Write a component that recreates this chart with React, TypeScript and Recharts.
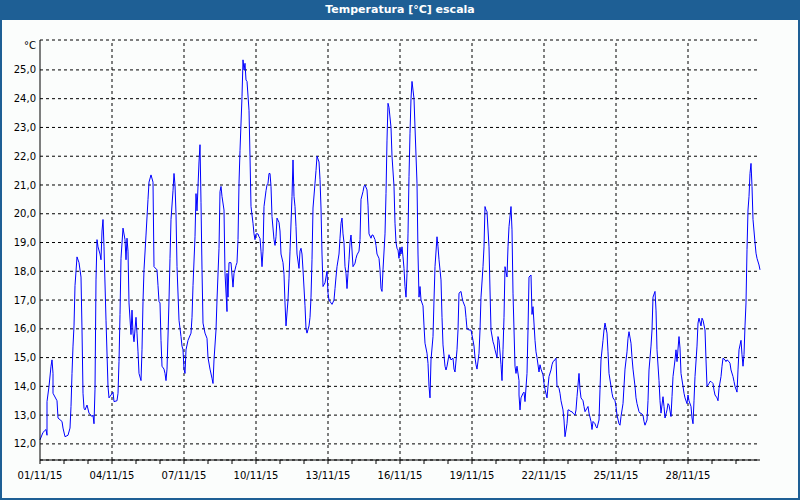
import React from 'react';
import { LineChart, Line, XAxis, YAxis, CartesianGrid, ReferenceLine } from 'recharts';

// [hour since 01/11/15 00:00, temperature °C]
const days01to05: [number, number][] = [
  [0,12.14],[3,12.4],[6,12.5],[7,12.3],[7,13.47],[9,14.0],[11,14.7],[12,14.92],[13,14.45],[13,13.76],[17,13.5],[18,12.9],[22,12.78],[23,12.55],[25,12.25],[28,12.3],[30,12.55],[31,13.3],[32,14.45],[33,15.4],[34,16.1],[35,17.5],[37,18.5],[39,18.3],[41,17.8],[42,15.96],[43,13.76],[44,13.24],[45,13.18],[47,13.35],[49,13.07],[52,12.95],[53,13.0],[54,12.7],[55,13.9],[56,17.7],[57,19.1],[58,18.85],[60,18.6],[61,18.4],[62,19.4],[63,19.8],[64,18.85],[66,16.3],[68,14.0],[69,13.6],[71,13.7],[73,13.8],[74,13.47],[77,13.5],[78,13.76],[79,14.86],[80,16.5],[81,18.45],[83,19.5],[85,19.1],[86,18.4],[87,19.15],[88,18.7],[89,16.9],[91,15.8],[92,16.65],[93,15.85],[94,15.55],[96,16.4],[97,15.85],[98,15.2],[99,14.45],[101,14.2],[102,15.27],[103,16.95],[104,18.05],[106,19.26],[108,20.5],[109,21.1],[111,21.35],[113,21.1],[114,18.16],[117,18.05],[118,17.5],[119,16.95],
];
const days06to10: [number, number][] = [
  [120,16.9],[121,15.6],[122,14.7],[124,14.6],[125,14.45],[126,14.2],[127,14.6],[128,15.75],[129,17.0],[130,18.45],[131,19.8],[133,20.8],[134,21.4],[135,21.0],[136,20.0],[137,18.16],[139,16.3],[141,15.73],[142,15.4],[143,15.27],[144,14.6],[145,14.45],[146,15.27],[148,15.6],[151,15.85],[152,16.4],[153,17.5],[155,19.2],[156,20.7],[157,20.1],[159,21.8],[160,22.4],[161,20.4],[162,18.05],[163,16.2],[165,15.85],[167,15.67],[168,15.0],[170,14.6],[172,14.28],[173,14.1],[174,14.92],[176,15.96],[177,17.0],[179,18.8],[180,20.77],[181,20.95],[182,20.6],[184,20.13],[185,17.93],[187,16.6],[187,17.93],[188,17.1],[189,18.3],[191,18.3],[193,17.45],[194,17.93],[195,18.05],[196,18.2],[197,18.3],[198,19.1],[199,21.06],[200,22.2],[202,24.07],[203,25.35],[204,25.0],[205,25.23],[206,24.65],[207,24.6],[209,23.6],[210,21.98],[211,20.25],[213,19.67],[214,19.3],[215,19.1],[216,19.3],[218,19.3],[219,19.2],[220,19.15],[221,18.7],[222,18.16],[223,18.7],[224,20.25],[226,20.8],[227,21.0],[228,21.06],[229,21.4],[230,21.4],[231,20.95],[232,19.9],[234,19.1],[235,18.9],[236,19.2],[237,19.85],[239,19.7],
];
const days11to15: [number, number][] = [
  [240,19.4],[241,18.6],[243,18.3],[244,17.9],[245,16.9],[246,16.1],[247,16.55],[248,17.0],[249,17.76],[250,18.7],[252,20.6],[253,21.87],[254,20.6],[255,20.25],[256,19.55],[257,18.6],[259,18.1],[260,18.7],[261,18.8],[262,18.6],[263,18.05],[265,16.8],[266,16.0],[267,15.85],[269,16.1],[270,16.4],[271,17.1],[272,18.4],[273,20.2],[275,21.06],[276,21.5],[277,22.0],[279,21.8],[280,21.2],[281,20.2],[282,18.6],[283,17.47],[285,17.6],[286,17.8],[287,18.0],[288,17.24],[289,17.0],[291,16.9],[292,16.85],[294,17.0],[295,17.4],[296,17.8],[297,18.16],[299,18.6],[300,19.15],[301,19.67],[302,19.85],[303,19.3],[304,19.0],[305,18.16],[306,17.93],[307,17.4],[308,17.93],[309,18.4],[310,19.0],[311,19.26],[312,18.74],[313,18.16],[315,18.28],[316,18.45],[317,18.57],[319,18.7],[320,19.1],[321,20.5],[323,20.77],[324,20.95],[325,21.0],[327,20.83],[328,20.3],[329,19.3],[331,19.15],[332,19.26],[333,19.26],[335,19.1],[336,18.9],[337,18.6],[339,18.45],[340,18.05],[341,17.4],[342,17.3],[343,18.05],[345,19.3],[346,20.7],[347,22.56],[348,23.84],[349,23.7],[351,23.0],[352,22.0],[354,20.95],[355,19.67],[356,19.0],[357,18.8],[358,18.74],[359,18.45],
];
const days16to20: [number, number][] = [
  [360,18.8],[361,18.6],[362,18.85],[363,18.5],[364,18.1],[365,17.47],[366,17.1],[367,17.93],[368,19.3],[369,21.3],[370,22.8],[371,24.0],[372,24.6],[373,24.3],[374,24.0],[375,23.0],[377,21.06],[378,18.6],[379,17.1],[380,17.47],[381,17.0],[383,16.8],[384,16.1],[385,15.5],[387,15.15],[388,14.8],[389,14.0],[390,13.6],[391,14.92],[393,15.73],[394,17.0],[395,18.16],[397,19.2],[398,18.85],[399,18.4],[401,17.7],[402,16.4],[403,15.44],[405,14.7],[406,14.57],[407,14.7],[409,15.1],[410,15.0],[411,14.92],[413,14.98],[414,14.6],[415,14.5],[417,15.27],[418,15.96],[419,17.24],[421,17.3],[422,17.1],[423,16.95],[425,16.77],[426,16.4],[427,16.0],[429,15.96],[431,15.96],[433,15.6],[434,15.4],[435,15.0],[436,14.75],[437,14.6],[439,15.15],[440,15.96],[441,17.1],[443,18.16],[444,18.85],[445,20.25],[446,20.13],[447,20.07],[449,18.85],[450,17.35],[451,15.96],[453,15.55],[454,15.44],[455,15.27],[457,15.0],[458,15.73],[459,15.6],[461,14.75],[462,14.2],[463,15.27],[464,16.4],[465,18.16],[467,17.8],[468,18.85],[469,19.55],[471,20.25],[472,19.44],[473,17.24],[475,14.7],[476,14.45],[477,14.7],[479,14.2],[479,13.7],
];
const days21to25: [number, number][] = [
  [480,13.18],[481,13.6],[483,13.76],[484,13.8],[485,13.47],[487,14.45],[488,15.96],[489,17.8],[491,17.87],[492,16.5],[493,16.77],[495,15.6],[496,15.2],[497,15.0],[499,14.5],[500,14.75],[501,14.6],[503,14.4],[504,14.1],[505,13.9],[507,13.6],[508,14.0],[509,14.34],[511,14.57],[512,14.75],[513,14.86],[515,14.92],[516,14.98],[517,14.0],[519,13.93],[520,13.76],[521,13.5],[523,13.18],[524,12.83],[525,12.25],[527,12.7],[528,13.18],[529,13.18],[531,13.12],[532,13.12],[533,13.07],[535,13.0],[536,13.18],[537,13.64],[539,14.45],[540,13.9],[541,13.6],[543,13.5],[544,13.3],[545,13.12],[547,13.24],[548,13.3],[549,13.07],[551,12.78],[552,12.5],[553,12.78],[555,12.7],[556,12.6],[557,12.55],[559,12.83],[560,13.9],[561,14.92],[563,15.6],[564,15.96],[565,16.2],[567,15.85],[568,15.2],[569,14.45],[571,14.0],[572,13.76],[573,13.6],[575,13.5],[576,13.3],[577,13.0],[579,12.7],[580,12.65],[581,12.95],[583,13.4],[584,14.0],[585,14.6],[587,15.2],[588,15.67],[589,15.9],[591,15.5],[592,15.0],[593,14.6],[595,14.0],[596,13.6],[597,13.4],[599,13.12],
];
const days26to30: [number, number][] = [
  [600,13.07],[601,13.07],[603,13.0],[604,12.78],[605,12.65],[607,12.83],[608,13.5],[609,14.57],[611,15.4],[612,15.96],[613,17.1],[615,17.3],[616,16.65],[617,15.27],[619,14.2],[620,13.5],[621,13.07],[623,13.64],[624,13.3],[625,12.9],[627,13.18],[628,13.4],[629,13.35],[631,12.95],[632,13.64],[633,14.34],[635,14.92],[636,15.27],[637,14.86],[639,15.73],[640,15.33],[641,14.45],[643,14.0],[644,13.76],[645,13.6],[647,13.4],[648,13.7],[649,13.5],[651,13.3],[652,12.9],[653,12.7],[654,13.5],[655,14.34],[657,15.4],[658,16.2],[659,16.37],[661,16.1],[662,16.37],[663,16.3],[665,15.96],[666,14.92],[667,14.0],[669,14.1],[670,14.17],[671,14.17],[673,14.1],[674,13.87],[675,13.7],[677,13.6],[678,13.5],[679,13.93],[681,14.34],[682,14.7],[683,14.98],[685,14.92],[686,14.86],[687,14.92],[689,14.86],[690,14.8],[691,14.57],[693,14.34],[694,14.17],[695,14.0],[697,13.8],[698,14.57],[699,15.27],[701,15.6],[702,15.1],[703,14.7],[704,15.1],[705,16.1],[706,16.9],[707,18.75],[708,20.13],[709,20.6],[710,21.4],[711,21.75],[712,20.95],[713,19.8],[715,19.0],[716,18.63],[717,18.45],[719,18.22],[720,18.05],
];

const yTicks = [12, 13, 14, 15, 16, 17, 18, 19, 20, 21, 22, 23, 24, 25];
const xTicks = [0,24,48,72,96,120,144,168,192,216,240,264,288,312,336,360,384,408,432,456,480,504,528,552,576,600,624,648,672,696];
const gridHours = [72, 144, 216, 288, 360, 432, 504, 576, 648];
const monthSuffix = '/11/15';
const title = 'Temperatura [°C] escala';
const unit = '°C';

const data = [...days01to05, ...days06to10, ...days11to15, ...days16to20, ...days21to25, ...days26to30]
  .map(([h, t]) => ({ h, t }));

const FONT = '"DejaVu Sans", Tahoma, sans-serif';
const BLUE = '#1e5f95';

const fmtX = (h: number) => {
  if (h % 72 !== 0) return '';
  const d = Math.floor(h / 24) + 1;
  return `${String(d).padStart(2, '0')}${monthSuffix}`;
};
const fmtY = (v: number) => v.toFixed(1).replace('.', ',');

export default function App() {
  return (
    <div style={{ position: 'absolute', left: 0, top: 0, width: 800, height: 500, background: '#fbfdfc', overflow: 'hidden' }}>
      <div style={{ position: 'absolute', left: 0, top: 0, width: 800, height: 500 }}>
        <LineChart width={800} height={500} data={data} margin={{ top: 40, right: 40, bottom: 10, left: 10 }}>
          <CartesianGrid vertical={false} stroke="#000" strokeDasharray="3 3" />
          <XAxis dataKey="h" type="number" domain={[0, 720]} ticks={xTicks} tickFormatter={fmtX} interval={0}
            height={30} tickSize={4} tickMargin={8} stroke="#000"
            tick={{ fill: '#000', fontSize: 10, fontFamily: FONT }} />
          <XAxis xAxisId="top" orientation="top" dataKey="h" type="number" domain={[0, 720]} height={0} tick={false} tickLine={false} stroke="#000" />
          <YAxis type="number" domain={[11.44, 26.04]} ticks={yTicks} tickFormatter={fmtY} interval={0} allowDataOverflow
            width={30} tickLine={false} tickSize={4} tickMargin={0} stroke="#000"
            tick={{ fill: '#000', fontSize: 10, fontFamily: FONT }} />
          <YAxis yAxisId="right" orientation="right" type="number" domain={[11.44, 26.04]} width={0} tick={false} tickLine={false} stroke="#000" />
          {gridHours.map((g) => (
            <ReferenceLine key={g} x={g} stroke="#000" strokeDasharray="3 3" />
          ))}
          <Line dataKey="t" type="linear" stroke="#0000ff" strokeWidth={1} dot={false} isAnimationActive={false} />
        </LineChart>
      </div>
      <div style={{ position: 'absolute', left: 0, top: 0, width: 800, height: 20, background: BLUE, color: '#fff', fontFamily: FONT, fontWeight: 'bold', fontSize: 11, lineHeight: '20px', textAlign: 'center' }}>
        {title}
      </div>
      <div style={{ position: 'absolute', left: 0, top: 41, width: 36, textAlign: 'right', fontFamily: FONT, fontSize: 10, lineHeight: '10px', color: '#000' }}>
        {unit}
      </div>
      <div style={{ position: 'absolute', left: 0, top: 0, width: 800, height: 500, boxSizing: 'border-box', borderLeft: `2px solid ${BLUE}`, borderRight: `2px solid ${BLUE}`, borderBottom: `2px solid ${BLUE}`, pointerEvents: 'none' }} />
    </div>
  );
}
